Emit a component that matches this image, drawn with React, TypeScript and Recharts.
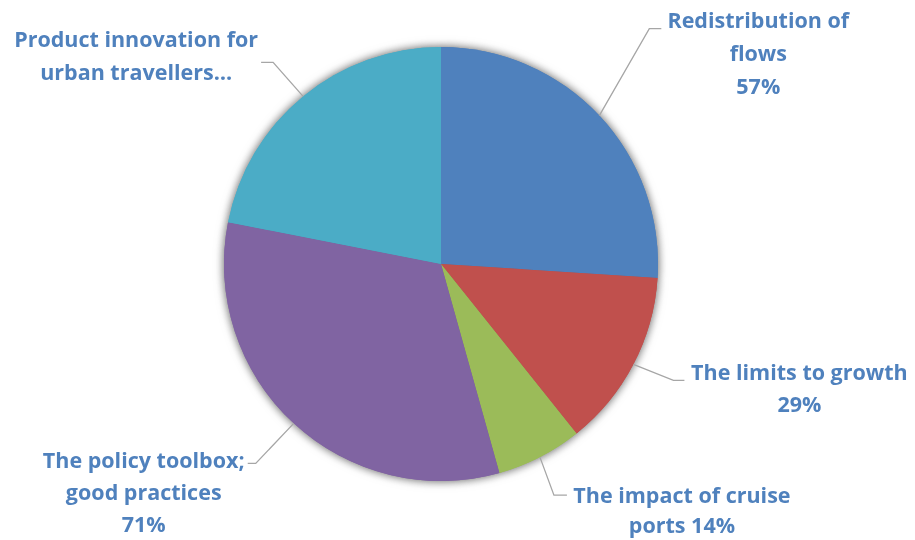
import React from "react";
import { Cell, Pie, PieChart } from "recharts";

const categories = [
  "Redistribution of flows",
  "The limits to growth",
  "The impact of cruise ports",
  "The policy toolbox; good practices",
  "Product innovation for urban travellers…",
];
const shares = [57, 29, 14, 71, 48];
const colors = ["#4F81BD", "#C0504D", "#9BBB59", "#8064A2", "#4BACC6"];

// how each label is broken into lines (percent is added from shares)
const labelLines = [
  ["Redistribution of", "flows", `${shares[0]}%`],
  ["The limits to growth", `${shares[1]}%`],
  ["The impact of cruise", `ports ${shares[2]}%`],
  ["The policy toolbox;", "good practices", `${shares[3]}%`],
  ["Product innovation for", "urban travellers…"],
];

// leader elbow offset from slice edge, tail length, text offset from elbow, line height
const labelLayout = [
  { ex: 50, ey: -87, tail: 12, tx: 109, ty: -1, lh: 33 },
  { ex: 40, ey: 16, tail: 11, tx: 126, ty: 0, lh: 32 },
  { ex: 14, ey: 38, tail: 13, tx: 128, ty: 8, lh: 30 },
  { ex: -38, ey: 40, tail: -8, tx: -112, ty: 5, lh: 32 },
  { ex: -30, ey: -34, tail: -12, tx: -137, ty: -15, lh: 33 },
];

const data = categories.map((name, i) => ({ name, value: shares[i] }));

const RAD = Math.PI / 180;

function SliceLabel(props: any) {
  const { cx, cy, midAngle, outerRadius, index } = props;
  const lay = labelLayout[index];
  const sx = cx + outerRadius * Math.cos(-midAngle * RAD);
  const sy = cy + outerRadius * Math.sin(-midAngle * RAD);
  const ex = sx + lay.ex;
  const ey = sy + lay.ey;
  const tx = ex + lay.tx;
  const ty = ey + lay.ty;
  return (
    <g>
      <polyline
        points={`${sx},${sy} ${ex},${ey} ${ex + lay.tail},${ey}`}
        fill="none"
        stroke="#A6A6A6"
        strokeWidth={1.3}
      />
      <text
        x={tx}
        y={ty}
        textAnchor="middle"
        fill="#4F81BD"
        fontFamily="'Open Sans', 'Noto Sans', sans-serif"
        fontWeight={700}
        fontSize={21.5}
      >
        {labelLines[index].map((line, k) => (
          <tspan key={k} x={tx} y={ty + k * lay.lh}>
            {line}
          </tspan>
        ))}
      </text>
    </g>
  );
}

export default function App() {
  return (
    <div style={{ position: "absolute", left: 0, top: 0, width: 915, height: 540, background: "#fff" }}>
      <style>{`.pie-shadow { filter: drop-shadow(0 0 4px rgba(0,0,0,0.35)); }`}</style>
      <PieChart width={915} height={540} margin={{ top: 0, right: 0, bottom: 0, left: 0 }}>
        <Pie
          className="pie-shadow"
          data={data}
          dataKey="value"
          nameKey="name"
          cx={441}
          cy={264}
          outerRadius={217}
          startAngle={90}
          endAngle={-270}
          stroke="none"
          label={false}
          labelLine={false}
          isAnimationActive={false}
        >
          {data.map((d, i) => (
            <Cell key={d.name} fill={colors[i]} />
          ))}
        </Pie>
        <Pie
          data={data}
          dataKey="value"
          nameKey="name"
          cx={441}
          cy={264}
          outerRadius={217}
          startAngle={90}
          endAngle={-270}
          stroke="none"
          label={SliceLabel}
          labelLine={false}
          isAnimationActive={false}
        >
          {data.map((d, i) => (
            <Cell key={d.name} fill={colors[i]} />
          ))}
        </Pie>
      </PieChart>
    </div>
  );
}
